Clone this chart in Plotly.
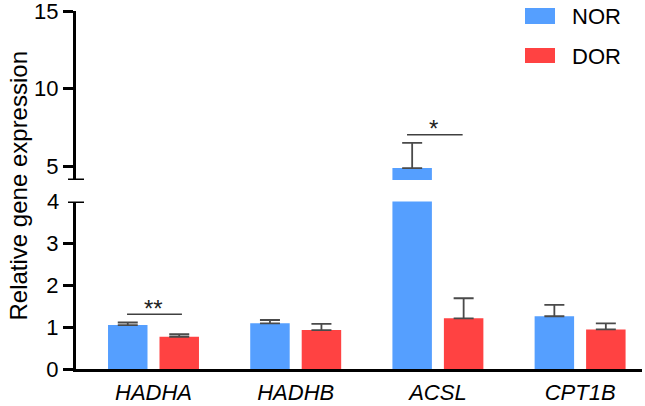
import plotly.graph_objects as go

genes = ["HADHA", "HADHB", "ACSL", "CPT1B"]
nor_mean = [1.05, 1.09, 4.87, 1.26]
nor_err = [0.06, 0.08, 1.63, 0.27]
dor_mean = [0.77, 0.93, 1.21, 0.945]
dor_err = [0.06, 0.15, 0.48, 0.145]
series_names = ["NOR", "DOR"]
lower_ticks = [0, 1, 2, 3, 4]
upper_ticks = [5, 10, 15]

BLUE = "#559FFF"
RED = "#FF4242"
FONT = "Liberation Sans, Arial, sans-serif"
ERRC = "#4a4a4a"

xidx = list(range(len(genes)))

fig = go.Figure()
for yref in ["y", "y2"]:
    for name, mean, err, col in [("NOR", nor_mean, nor_err, BLUE), ("DOR", dor_mean, dor_err, RED)]:
        fig.add_trace(go.Bar(
            x=xidx, y=mean, name=name, marker=dict(color=col, line=dict(width=0)),
            error_y=dict(type="data", array=err, arrayminus=[0] * len(err), symmetric=False,
                         color=ERRC, thickness=1.8, width=10),
            yaxis=yref, showlegend=False,
        ))

W_L, W_R, W_T, W_B = 76, 3, 11, 37
PW = 645 - W_L - W_R
PH = 406 - W_T - W_B

def px(x):
    return (x - W_L) / PW

def py(y):
    return (406 - W_B - y) / PH

shapes = []
# axis break caps
shapes.append(dict(type="line", xref="paper", yref="y", x0=px(68), x1=px(84), y0=4, y1=4,
                   line=dict(color="black", width=3)))
shapes.append(dict(type="line", xref="paper", yref="y2", x0=px(68), x1=px(84), y0=4.097, y1=4.097,
                   line=dict(color="black", width=3)))
# significance lines
shapes.append(dict(type="line", xref="x", yref="y", x0=-0.186, x1=0.20, y0=1.31, y1=1.31,
                   line=dict(color="#404040", width=1.5)))
shapes.append(dict(type="line", xref="x", yref="y2", x0=1.783, x1=2.174, y0=7.02, y1=7.02,
                   line=dict(color="#404040", width=1.5)))
# legend patches
shapes.append(dict(type="rect", xref="paper", yref="paper", x0=px(525), x1=px(555), y0=py(24), y1=py(8),
                   fillcolor=BLUE, line=dict(width=0)))
shapes.append(dict(type="rect", xref="paper", yref="paper", x0=px(525), x1=px(555), y0=py(63), y1=py(48),
                   fillcolor=RED, line=dict(width=0)))

annotations = [
    dict(text="**", x=0, y=1.31, xref="x", yref="y", yanchor="bottom", showarrow=False, yshift=-10,
         font=dict(size=24, color="#222", family=FONT)),
    dict(text="*", x=1.97, y=7.02, xref="x", yref="y2", yanchor="bottom", showarrow=False, yshift=-9,
         font=dict(size=24, color="#222", family=FONT)),
    dict(text="Relative gene expression", x=px(17.5), y=py(186), xref="paper", yref="paper",
         textangle=-90, showarrow=False, xanchor="center", yanchor="middle",
         font=dict(size=24, color="black", family=FONT)),
    dict(text=series_names[0], x=px(570), y=py(16), xref="paper", yref="paper", xanchor="left",
         yanchor="middle", showarrow=False, font=dict(size=22, color="black", family=FONT)),
    dict(text=series_names[1], x=px(570), y=py(56), xref="paper", yref="paper", xanchor="left",
         yanchor="middle", showarrow=False, font=dict(size=22, color="black", family=FONT)),
    dict(text=str(lower_ticks[-1]), x=0, y=4, xref="paper", yref="y", xanchor="right",
         yanchor="middle", xshift=-15, showarrow=False,
         font=dict(size=22, color="black", family=FONT)),
]

fig.update_layout(
    width=645, height=406,
    margin=dict(l=W_L, r=W_R, t=W_T, b=W_B, autoexpand=False),
    paper_bgcolor="white", plot_bgcolor="white",
    barmode="group", bargap=0.276, bargroupgap=0.233,
    font=dict(family=FONT, color="black"),
    xaxis=dict(range=[-0.545, -0.545 + PW / 142.2], tickvals=xidx,
               ticktext=["<i>%s</i>" % g for g in genes], showline=True, linecolor="black",
               linewidth=3, ticks="", showgrid=False, zeroline=False, anchor="y",
               ticklabelstandoff=2, automargin=False,
               tickfont=dict(size=22, color="black", family=FONT)),
    yaxis=dict(domain=[0, py(201.5)], range=[0, 4], tickvals=lower_ticks[:-1],
               showline=True, linecolor="black", linewidth=3, ticks="outside", ticklen=10,
               tickwidth=3, tickcolor="black", showgrid=False, zeroline=False, automargin=False,
               tickfont=dict(size=22, color="black", family=FONT)),
    yaxis2=dict(domain=[py(180), 1], range=[4.097, 15.01], tickvals=upper_ticks,
                showline=True, linecolor="black", linewidth=3, ticks="outside", ticklen=10,
                tickwidth=3, tickcolor="black", showgrid=False, zeroline=False, anchor="x",
                automargin=False, ticklabeloverflow="allow",
                tickfont=dict(size=22, color="black", family=FONT)),
    shapes=shapes,
    annotations=annotations,
)

fig.write_html("out.html", config={"displayModeBar": False},
               post_script="document.body.style.margin='0';document.body.style.overflow='hidden';")
